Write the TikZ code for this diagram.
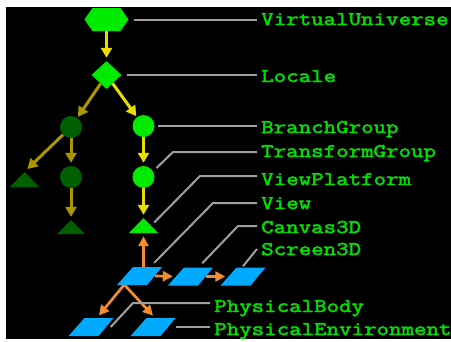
\documentclass[tikz,border=0pt]{standalone}
\usepackage{fontspec}
\newfontfamily\codefont{Latin Modern Mono}[FakeBold=2.5,FakeStretch=1.25]
\usetikzlibrary{arrows.meta,shapes.geometric,calc}
\definecolor{bgreen}{RGB}{0,235,0}
\definecolor{dgreen}{RGB}{0,95,0}
\definecolor{byellow}{RGB}{235,220,0}
\definecolor{olivey}{RGB}{170,150,0}
\definecolor{orng}{RGB}{240,140,50}
\definecolor{sky}{RGB}{0,170,255}
\definecolor{leader}{RGB}{160,160,160}
\definecolor{txtgreen}{RGB}{0,225,0}
\begin{document}
\begin{tikzpicture}[x=1pt,y=-1pt,
  hexnode/.style={minimum width=44pt,minimum height=23pt,inner sep=0pt,
    path picture={\fill[#1] (path picture bounding box.west) -- ([xshift=8pt]path picture bounding box.north west) -- ([xshift=-8pt]path picture bounding box.north east) -- (path picture bounding box.east) -- ([xshift=-8pt]path picture bounding box.south east) -- ([xshift=8pt]path picture bounding box.south west) -- cycle;}},
  dia/.style={diamond,fill=#1,minimum width=30pt,minimum height=28pt,inner sep=0pt},
  circ/.style={circle,fill=#1,minimum size=22pt,inner sep=0pt},
  tri/.style={inner sep=0pt,
    path picture={\fill[#1] (path picture bounding box.north) -- (path picture bounding box.south east) -- (path picture bounding box.south west) -- cycle;}},
  para/.style={minimum width=45pt,minimum height=18pt,inner sep=0pt,
    path picture={\fill[sky] (path picture bounding box.south west) -- ([xshift=16pt]path picture bounding box.north west) -- (path picture bounding box.north east) -- ([xshift=-15pt]path picture bounding box.south east) -- cycle;}},
  yarr/.style={draw=byellow,line width=3pt,-{Triangle[width=11pt,length=10pt]},shorten >=3pt},
  oarr/.style={draw=olivey,line width=3pt,-{Triangle[width=11pt,length=10pt]},shorten >=3pt},
  orarr/.style={draw=orng,line width=2.7pt,-{Triangle[width=10pt,length=10pt]},shorten >=3pt},
  lead/.style={draw=leader,line width=2pt},
  lab/.style={text=txtgreen,font=\codefont\fontsize{19.4}{19.4}\selectfont,anchor=west,inner xsep=4pt,inner ysep=0pt,text height=12pt,text depth=0pt}
]
\useasboundingbox (0,0) rectangle (451,341);
\fill[white] (0,0) rectangle (451,341);
\fill[black] (6,7) rectangle (451,339);

% nodes
\node[hexnode=bgreen] (vu) at (106.5,19.5) {};
\node[dia=bgreen] (loc) at (106.5,75) {};
\node[circ=bgreen] (bg) at (143.5,126) {};
\node[circ=dgreen] (d1) at (71,127) {};
\node[circ=bgreen] (tg) at (143.5,177) {};
\node[circ=dgreen] (d2) at (71,177) {};
\node[tri=dgreen,minimum width=29pt,minimum height=15pt] (t1) at (24.5,179.5) {};
\node[tri=dgreen,minimum width=28pt,minimum height=14pt] (t2) at (71,227) {};
\node[tri=bgreen,minimum width=29pt,minimum height=15pt] (vp) at (143.5,225.5) {};
\node[para] (view) at (139.5,276) {};
\node[para] (canvas) at (190.5,276.5) {};
\node[para] (screen) at (243,276.5) {};
\node[para] (pb) at (91,327) {};
\node[para] (pe) at (153,327) {};

% labels
\node[lab] (vulab) at (257,19) {VirtualUniverse};
\node[lab] (loclab) at (257,76) {Locale};
\node[lab] (bglab) at (257,127) {BranchGroup};
\node[lab] (tglab) at (257,151) {TransformGroup};
\node[lab] (vplab) at (257,179) {ViewPlatform};
\node[lab] (viewlab) at (257,203) {View};
\node[lab] (canlab) at (257,227) {Canvas3D};
\node[lab] (scrlab) at (257,249) {Screen3D};
\node[lab] (pblab) at (210,306) {PhysicalBody};
\node[lab] (pelab) at (210,329) {PhysicalEnvironment};

% arrows
\draw[yarr] (vu) -- (loc);
\draw[oarr,shorten >=1pt] (loc) -- (d1);
\draw[yarr,shorten >=1pt] (loc) -- (bg);
\draw[oarr] (d1) -- (d2);
\draw[oarr,shorten >=4pt] (d1) -- (t1.north);
\draw[oarr] (d2) -- (t2.north);
\draw[yarr] (bg) -- (tg);
\draw[yarr] (tg) -- (vp.north);
\draw[orarr] (vp |- view.north) -- (vp.south);
\draw[orarr] ([xshift=-7pt]view.east) -- ([xshift=8pt]canvas.west);
\draw[orarr] ([xshift=-7pt]canvas.east) -- ([xshift=8pt]screen.west);
\draw[orarr] ([xshift=7pt]view.south west) -- ([xshift=6pt]pb.north);
\draw[orarr] ([xshift=8pt]view.south west) -- ([xshift=2pt]pe.north);

% leader lines
\coordinate (ctg) at (173,152);
\coordinate (cvp) at (200,176);
\coordinate (cview) at (213,203);
\coordinate (ccan) at (238,226);
\coordinate (cpb) at (133,303);
\draw[lead] ([xshift=5pt]vu.east) -- (vu.east -| vulab.west);
\draw[lead] ([xshift=5pt]loc.east) -- (loc.east -| loclab.west);
\draw[lead] ([xshift=3pt]bg.east) -- (bg.east -| bglab.west);
\draw[lead] ($(tg.center)+(13,-9)$) -- (ctg) -- (ctg -| tglab.west);
\draw[lead] ($(vp.east)+(-4,-3)$) -- (cvp) -- (cvp -| vplab.west);
\draw[lead] ($(view.north east)+(-8,-4)$) -- (cview) -- (cview -| viewlab.west);
\draw[lead] ($(canvas.north east)+(-11,-4)$) -- (ccan) -- (ccan -| canlab.west);
\draw[lead] ($(screen.north)+(0,-1)$) -- (scrlab.west);
\draw[lead] ($(pb.east)+(-3,0)$) -- (cpb) -- (cpb -| pblab.west);
\draw[lead] (pe.east) -- (pe.east -| pelab.west);
\end{tikzpicture}
\end{document}
